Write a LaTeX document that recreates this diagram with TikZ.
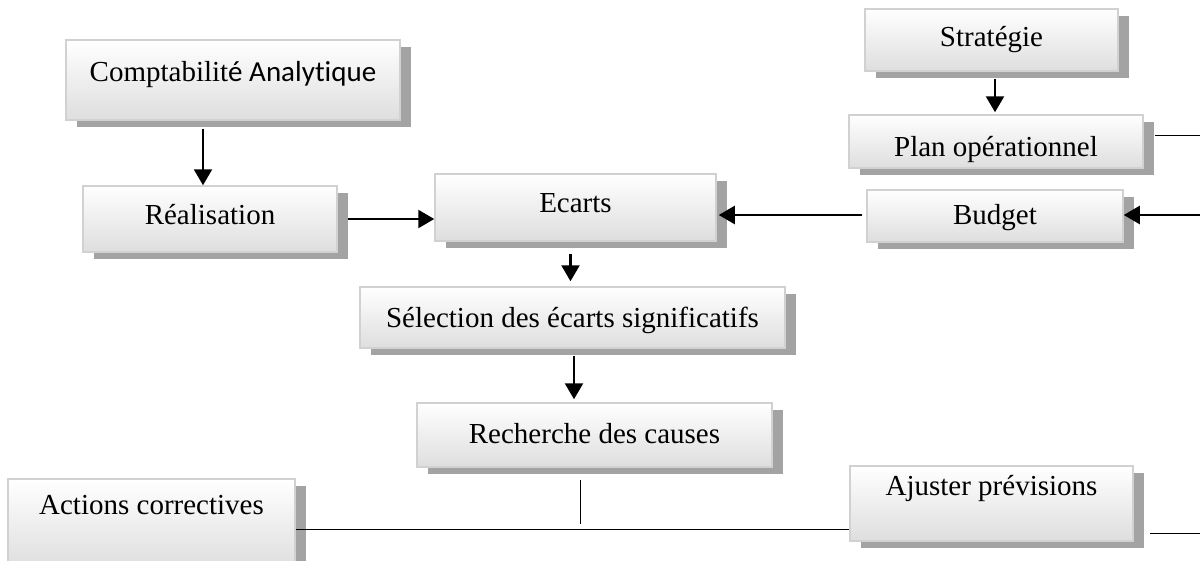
\documentclass[tikz,border=0pt]{standalone}
\usepackage{fontspec}
\setmainfont{Liberation Serif}
\newfontfamily\calibri[Ligatures=NoCommon]{Carlito}
\usetikzlibrary{arrows.meta,shadows,calc}

\begin{document}
\begin{tikzpicture}[x=1pt,y=-1pt,
    box/.style={draw=black!18, line width=1.5pt, top color=white, bottom color=black!13,
      drop shadow={shadow xshift=11pt, shadow yshift=-7pt, fill=black!36, opacity=1},
      inner sep=0pt, text height=26pt, text depth=7pt, font=\fontsize{29}{34}\selectfont},
    arr/.style={line width=2.4pt, -{Triangle[length=16pt,width=18pt]}},
    link/.style={line width=1pt}]
  \useasboundingbox (0,0) rectangle (1200,560);

  % Boxes
  \node[box, minimum width=334pt, minimum height=80pt, text depth=23pt] (compta) at (233,80)
    {Comptabilit{\calibri é Analytique}};
  \node[box, minimum width=254pt, minimum height=66pt, text depth=15pt] (real) at (210,219) {Réalisation};
  \node[box, minimum width=281pt, minimum height=67pt, text depth=16pt] (ecarts) at (575.5,207.5) {Ecarts};
  \node[box, minimum width=425pt, minimum height=61pt] (sel) at (572.5,317.5) {Sélection des écarts significatifs};
  \node[box, minimum width=355pt, minimum height=64pt, text depth=10pt] (rech) at (594.5,435) {Recherche des causes};
  \node[box, minimum width=253pt, minimum height=62pt, text depth=13pt] (strat) at (991.5,40) {Stratégie};
  \node[box, minimum width=294pt, minimum height=53pt, text height=37pt] (plan) at (996,141.5) {Plan opérationnel};
  \node[box, minimum width=256pt, minimum height=52pt, text depth=9pt] (budget) at (995,216) {Budget};
  \node[box, minimum width=287pt, minimum height=90pt, text depth=45pt] (actions) at (151.5,524) {Actions correctives};
  \node[box, minimum width=283pt, minimum height=75pt, text depth=43pt] (ajuster) at (991.5,503.5) {Ajuster prévisions};

  % Free ends
  \coordinate (rp) at (1200,135);
  \coordinate (rb) at (1200,215);
  \coordinate (ra) at (1200,533);
  \coordinate (jn) at (580,524);

  % Left side
  \draw[arr] ($(compta.south)+(-30,8)$) -- ($(compta.south |- real.north)+(-30,0)$);
  \draw[arr] ($(real.east)+(10,0)$) -- (real.east -| ecarts.west);

  % Right side
  \draw[arr] ($(strat.south)+(3.5,7)$) -- ($(strat.south |- plan.north)+(3.5,-2)$);
  \draw[link] ($(plan.east |- rp)+(11,0)$) -- (rp);
  \draw[arr] (rb) -- (budget.east |- rb);
  \draw[arr] ($(budget.west |- rb)+(-4,0)$) -- ($(ecarts.east |- rb)+(2,0)$);

  % Middle
  \draw[arr] ($(ecarts.south)+(-5,12)$) -- ($(ecarts.south |- sel.north)+(-5,-5)$);
  \draw[arr] ($(sel.south)+(1.5,7)$) -- ($(sel.south |- rech.north)+(1.5,-3)$);
  \draw[link] ($(rech.south)+(-14.5,12)$) -- (jn);

  % Bottom
  \draw[link] ($(actions.east)+(0,5)$) -- ($(ajuster.west |- actions.east)+(0,5)$);
  \draw[link] ($(ajuster.east |- ra)+(16,0)$) -- (ra);
\end{tikzpicture}
\end{document}
